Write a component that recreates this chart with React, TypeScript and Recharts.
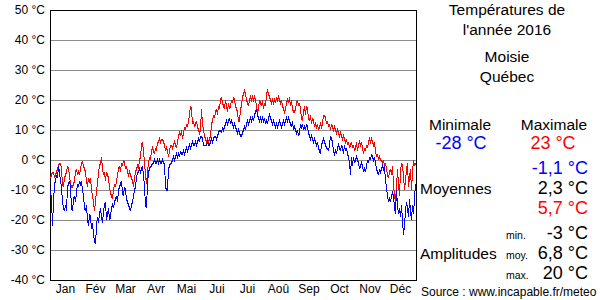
import React from "react";
import {
  LineChart,
  Line,
  XAxis,
  YAxis,
  CartesianGrid,
  ReferenceArea,
} from "recharts";

const monthNames = ["Jan", "Fév", "Mar", "Avr", "Mai", "Jui", "Jui", "Aoû", "Sep", "Oct", "Nov", "Déc"];
const monthLengths = [31, 29, 31, 30, 31, 30, 31, 31, 30, 31, 30, 31];

const maxJan = [-6, -5, -4, -4, -6, -5, -4, -3, -2, -1, -1, -3, -8, -9, -6, -5, -4, -2, -3, -5, -8, -9, -9, -8, -7, -4, -3, -5, -4, -5, -3];
const maxFeb = [-1, -0.5, -2, -3, -4, -7, -9, -6, -7, -6, -10, -12, -14, -17, -14, -10, -8, -4, -2, -1, 1, -3, -5, -4, -7, -4, -5, -6, -9];
const maxMar = [-11, -12, -13, -10, -8, -9, -7, -5, -3, -2, -4, -1, -2, 0, -1, -3, -2, -4, -5, -4, -5, -6, -7, -9, -6, -4, -3, -2, -3, 0, 1];
const maxApr = [5, 6, 3, -1, -5, -8, -4, -1, 1, 0, 3, 4, 3, 2, 4, 3, 6, 6, 7, 6, 7, 7, 6, 5, 3, 4, 3, 1, 3, 5];
const maxMay = [5, 4, 5, 6, 5, 4, 6, 8, 9, 8, 10, 7, 9, 11, 10, 12, 11, 13, 15, 18, 17, 12, 13, 11, 12, 13, 11, 10, 9, 10, 17];
const maxJun = [12, 10, 8, 7, 6, 7, 6, 7, 8, 12, 13, 15, 14, 16, 17, 15, 18, 17, 20, 21, 19, 18, 17, 20, 18, 16, 19, 17, 18, 20];
const maxJul = [19, 21, 20, 18, 17, 16, 13, 13, 17, 18, 21, 22, 23, 22, 20, 19, 18, 20, 21, 20, 21, 20, 21, 20, 18, 16, 17, 20, 19, 18, 20];
const maxAug = [17, 19, 18, 22, 23, 22, 21, 20, 19, 20, 19, 20, 19, 21, 20, 21, 20, 19, 20, 18, 17, 16, 17, 19, 20, 19, 21, 18, 20, 17, 16];
const maxSep = [16, 17, 19, 20, 18, 19, 17, 14, 13, 16, 18, 15, 18, 17, 14, 13, 15, 12, 14, 13, 11, 12, 11, 12, 10, 11, 12, 11, 12, 15];
const maxOct = [15, 14, 12, 13, 11, 12, 10, 12, 11, 10, 11, 10, 9, 10, 9, 8, 9, 8, 7, 8, 7, 6, 7, 5, 6, 4, 5, 6, 4, 5, 3];
const maxNov = [4, 6, 3, 5, 6, 5, 6, 4, 2, 4, 3, 5, 4, 6, 7, 6, 7, 6, 5, 6, 3, 1, 2, 0, 1, 0, 0, -1, 0, -2];
const maxDec = [-1, -3, -5, -6, -4, -3, -5, -2, -8, -12, -14, -9, -3, -8, -12, -4, -1, -2, -5, -10, -7, -3, -1, -9, -6, -3, -10, -4, 0, -2, -1];

const minJan = [-10, -13, -22, -14, -8, -7, -5, -6, -2, -4, -7, -9, -14, -16, -17, -15, -17, -9, -8, -7, -9, -16, -17, -13, -12, -14, -11, -8, -9, -7, -8];
const minFeb = [-7, -10, -12, -16, -17, -15, -20, -22, -18, -19, -23, -21, -25, -27, -28, -22, -19, -21, -18, -16, -19, -21, -17, -15, -14, -20, -18, -16, -20];
const minMar = [-19, -16, -15, -16, -14, -13, -12, -14, -10, -9, -8, -7, -11, -12, -9, -10, -13, -14, -15, -16, -17, -15, -14, -12, -10, -9, -6, -4, -4, -3, -4];
const minApr = [-3, -2, -5, -9, -15, -16, -8, -4, -3, -2, -2, -1, -1, 0, -1, -1, 0, -1, 0, -1, -1, 0, -1, -1, -9, -10, -10, -3, -2, -1];
const minMay = [-1, 0, 1, 0, 1, 2, 1, 2, 1, 3, 2, 2, 3, 2, 3, 4, 3, 4, 5, 4, 5, 6, 5, 5, 6, 5, 6, 7, 6, 8, 8];
const minJun = [7, 5, 5, 5, 5, 6, 5, 5, 6, 7, 6, 7, 8, 8, 7, 8, 9, 10, 10, 9, 11, 10, 11, 12, 13, 12, 13, 14, 12, 13];
const minJul = [12, 11, 12, 11, 10, 9, 10, 9, 8, 8, 9, 10, 11, 10, 12, 13, 12, 13, 14, 13, 14, 13, 15, 16, 17, 15, 14, 13, 14, 13, 14];
const minAug = [13, 14, 12, 13, 12, 14, 15, 14, 13, 12, 13, 12, 11, 12, 11, 12, 13, 12, 11, 12, 13, 12, 13, 14, 13, 14, 13, 12, 11, 13, 10];
const minSep = [11, 10, 9, 10, 8, 9, 12, 11, 12, 10, 11, 10, 12, 11, 9, 8, 7, 8, 7, 6, 7, 6, 5, 6, 4, 3, 2, 5, 6, 7];
const minOct = [6, 5, 4, 4, 3, 5, 8, 7, 6, 3, 2, 3, 2, 4, 5, 4, 3, 5, 4, 2, 5, 3, 4, 2, 1, -1, -5, 1, -2, 1, -1];
const minNov = [0, 1, 0, -1, -3, -2, -1, -2, -4, -3, -4, -2, 0, -1, 1, 0, 2, 1, 0, 1, -1, -3, -4, -5, -3, -4, -3, -2, -3, -2];
const minDec = [-7, -9, -12, -14, -13, -14, -12, -11, -12, -16, -18, -10, -15, -18, -16, -19, -15, -20, -25, -22, -17, -14, -16, -19, -13, -17, -20, -15, -18, -13, -8];

const yTicks = [-40, -30, -20, -10, 0, 10, 20, 30, 40, 50];

const maxAll = [maxJan, maxFeb, maxMar, maxApr, maxMay, maxJun, maxJul, maxAug, maxSep, maxOct, maxNov, maxDec].flat();
const minAll = [minJan, minFeb, minMar, minApr, minMay, minJun, minJul, minAug, minSep, minOct, minNov, minDec].flat();

const data = maxAll.map((v, i) => ({ day: i + 0.5, max: v, min: minAll[i] }));

const monthStarts: number[] = [0];
monthLengths.forEach((l, i) => monthStarts.push(monthStarts[i] + l));
const monthMids = monthLengths.map((l, i) => monthStarts[i] + l / 2);
const totalDays = monthStarts[monthStarts.length - 1];

const FONT = "'Liberation Sans', Arial, Helvetica, sans-serif";

const YTick = (props: any) => {
  const { x, y, payload } = props;
  return (
    <text x={x} y={y} dy={4} textAnchor="end" fontSize={12} fontFamily={FONT} fill="#000">
      {`${payload.value} °C`}
    </text>
  );
};

const MonthTick = (props: any) => {
  const { x, y, payload, index } = props;
  return (
    <text x={x} y={y} dy={13} textAnchor="middle" fontSize={12} fontFamily={FONT} fill="#000">
      {monthNames[index]}
    </text>
  );
};

export default function App() {
  const big = 15.5;
  const val = 18;
  return (
    <div style={{ position: "absolute", left: 0, top: 0, width: 600, height: 300, background: "#fff" }}>
      <style>{".recharts-line-curve, .recharts-cartesian-grid line, .recharts-reference-area-rect { shape-rendering: crispEdges; }"}</style>
      <LineChart
        width={600}
        height={300}
        data={data}
        margin={{ top: 10, right: 184, bottom: 0, left: 0 }}
      >
        <CartesianGrid stroke="#8c8c8c" strokeWidth={1} />
        <XAxis
          dataKey="day"
          type="number"
          domain={[0, totalDays]}
          ticks={monthStarts}
          tick={false}
          tickLine={false}
          axisLine={false}
          height={0}
          allowDataOverflow
        />
        <XAxis
          xAxisId="lbl"
          dataKey="day"
          type="number"
          domain={[0, totalDays]}
          ticks={monthMids}
          tick={<MonthTick />}
          tickLine={false}
          axisLine={false}
          tickSize={0}
          tickMargin={0}
          height={20}
          interval={0}
        />
        <YAxis
          type="number"
          domain={[-40, 50]}
          ticks={yTicks}
          tick={<YTick />}
          tickLine={false}
          axisLine={false}
          tickSize={0}
          tickMargin={5}
          width={50}
          interval={0}
        />
        <ReferenceArea x1={0} x2={totalDays} y1={-40} y2={50} fill="none" stroke="#000" strokeWidth={1} ifOverflow="visible" />
        <Line type="linear" dataKey="max" stroke="#ff0000" strokeWidth={1} dot={false} activeDot={false} isAnimationActive={false} />
        <Line type="linear" dataKey="min" stroke="#0000ff" strokeWidth={1} dot={false} activeDot={false} isAnimationActive={false} />
      </LineChart>
      <svg width={600} height={300} style={{ position: "absolute", left: 0, top: 0, pointerEvents: "none" }} fontFamily={FONT}>
        <text x={507} y={15} textAnchor="middle" fontSize={big} fill="#000">Températures de</text>
        <text x={507} y={35} textAnchor="middle" fontSize={big} fill="#000">l'année 2016</text>
        <text x={507} y={62} textAnchor="middle" fontSize={big} fill="#000">Moisie</text>
        <text x={507} y={82} textAnchor="middle" fontSize={big} fill="#000">Québec</text>
        <text x={460} y={130} textAnchor="middle" fontSize={big} fill="#000">Minimale</text>
        <text x={554} y={130} textAnchor="middle" fontSize={big} fill="#000">Maximale</text>
        <text x={461} y={149} textAnchor="middle" fontSize={val} fill="#0000ff">-28 °C</text>
        <text x={553} y={149} textAnchor="middle" fontSize={val} fill="#ff0000">23 °C</text>
        <text x={588} y={174} textAnchor="end" fontSize={val} fill="#0000ff">-1,1 °C</text>
        <text x={420} y={194} textAnchor="start" fontSize={big} fill="#000">Moyennes</text>
        <text x={588} y={194} textAnchor="end" fontSize={val} fill="#000">2,3 °C</text>
        <text x={588} y={214} textAnchor="end" fontSize={val} fill="#ff0000">5,7 °C</text>
        <text x={420} y={259} textAnchor="start" fontSize={big} fill="#000">Amplitudes</text>
        <text x={506} y={239} textAnchor="start" fontSize={10.5} fill="#000">min.</text>
        <text x={506} y={259} textAnchor="start" fontSize={10.5} fill="#000">moy.</text>
        <text x={506} y={279} textAnchor="start" fontSize={10.5} fill="#000">max.</text>
        <text x={588} y={239} textAnchor="end" fontSize={val} fill="#000">-3 °C</text>
        <text x={588} y={259} textAnchor="end" fontSize={val} fill="#000">6,8 °C</text>
        <text x={588} y={279} textAnchor="end" fontSize={val} fill="#000">20 °C</text>
        <text x={421} y={296} textAnchor="start" fontSize={12} fill="#000">Source : www.incapable.fr/meteo</text>
      </svg>
    </div>
  );
}
